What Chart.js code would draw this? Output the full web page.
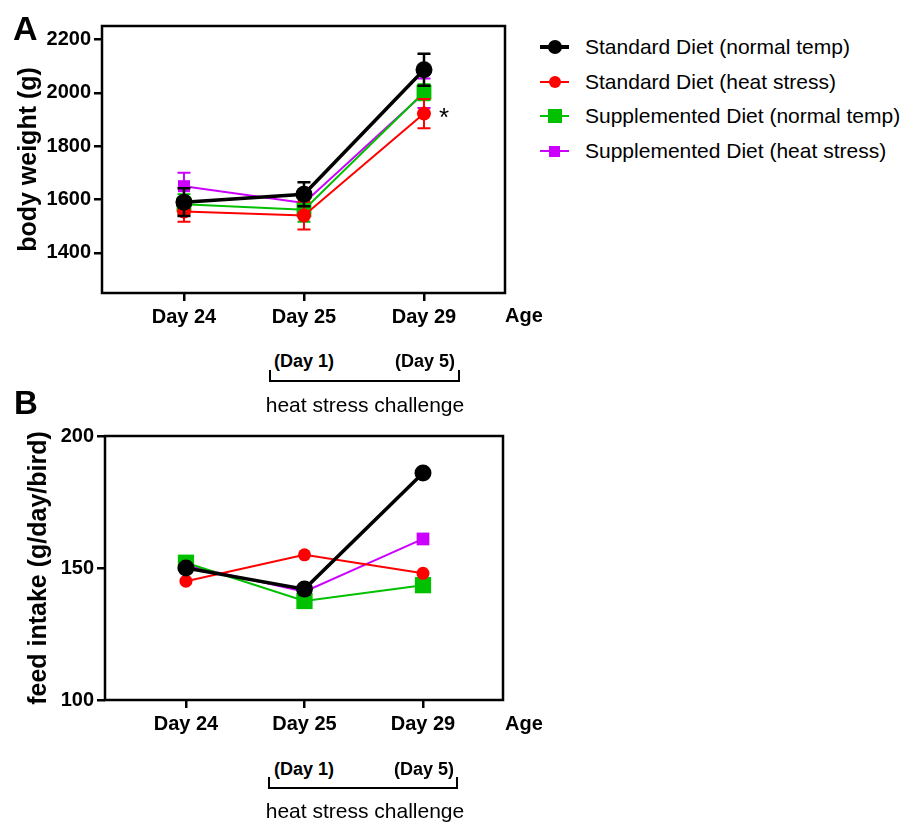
<!DOCTYPE html>
<html>
<head>
<meta charset="utf-8">
<title>Body weight and feed intake</title>
<script src="https://cdn.jsdelivr.net/npm/chart.js@4.4.1/dist/chart.umd.min.js"></script>
<style>
  html, body { margin: 0; padding: 0; background: #fff; }
  body {
    width: 909px; height: 823px; position: relative; overflow: hidden;
    font-family: "Liberation Sans", Arial, sans-serif; color: #000;
  }
  canvas { position: absolute; left: 0; }
  #chartA { top: 0; }
  #chartB { top: 400px; }
  .txt { position: absolute; line-height: 1; white-space: nowrap; }
  .panel { font-size: 34px; font-weight: bold; }
  .age { font-size: 20px; font-weight: bold; }
  .sub { font-size: 18px; font-weight: bold; transform: translateX(-50%); }
  .challenge { font-size: 21px; transform: translateX(-50%); }
  .bracket { position: absolute; border: 2px solid #000; border-top: none; box-sizing: border-box; }
  #legend { position: absolute; left: 540px; top: 0; }
  .row { position: absolute; left: 0; height: 30px; width: 369px; }
  .row .seg { position: absolute; left: 0; width: 29px; }
  .row .mk { position: absolute; }
  .row .lbl { position: absolute; left: 45px; top: 0; line-height: 30px; font-size: 21px; white-space: nowrap; }
</style>
</head>
<body>
<canvas id="chartA" width="520" height="340"></canvas>
<canvas id="chartB" width="520" height="345"></canvas>

<div class="txt panel" style="left:13px; top:11px;">A</div>
<div class="txt panel" style="left:14px; top:386px; font-size:33px;">B</div>

<div class="txt age" style="left:505px; top:305px;">Age</div>
<div class="txt age" style="left:505px; top:713px;">Age</div>

<div class="txt sub" style="left:304px; top:352px;">(Day 1)</div>
<div class="txt sub" style="left:425px; top:352px;">(Day 5)</div>
<div class="bracket" style="left:269px; top:370px; width:191px; height:12px;"></div>
<div class="txt challenge" style="left:365px; top:394px;">heat stress challenge</div>

<div class="txt sub" style="left:304px; top:760px;">(Day 1)</div>
<div class="txt sub" style="left:424px; top:760px;">(Day 5)</div>
<div class="bracket" style="left:268px; top:777px; width:190px; height:12px;"></div>
<div class="txt challenge" style="left:365px; top:800px;">heat stress challenge</div>

<div id="legend"></div>

<script>
  /* ---------- Data ---------- */
  const days = ['Day 24', 'Day 25', 'Day 29'];
  const dayPos = [0, 1, 2];

  const seriesNames = [
    'Standard Diet (normal temp)',
    'Standard Diet (heat stress)',
    'Supplemented Diet (normal temp)',
    'Supplemented Diet (heat stress)',
  ];
  const seriesColors = ['#000000', '#ff0000', '#00c000', '#cc00ff'];
  const seriesShapes = ['circle', 'circle', 'rect', 'rect'];

  // A: body weight (g), mean and error
  const weightStdNormal = [1590, 1620, 2086];
  const weightStdHeat = [1555, 1540, 1922];
  const weightSupNormal = [1582, 1562, 2002];
  const weightSupHeat = [1650, 1587, 1998];
  const weightStdNormalErr = [52, 45, 60];
  const weightStdHeatErr = [38, 52, 55];
  const weightSupNormalErr = [38, 45, 30];
  const weightSupHeatErr = [50, 40, 55];
  const weightTicks = [1400, 1600, 1800, 2000, 2200];

  // B: feed intake (g/day/bird)
  const feedStdNormal = [150, 142, 186];
  const feedStdHeat = [145, 155, 148];
  const feedSupNormal = [152, 137.5, 143.5];
  const feedSupHeat = [151, 141, 161];
  const feedTicks = [100, 150, 200];

  /* ---------- Plugins ---------- */
  const frameBox = {
    id: 'frameBox',
    afterDraw(chart) {
      const { ctx, chartArea: a } = chart;
      ctx.save();
      ctx.strokeStyle = '#000';
      ctx.lineWidth = 2.5;
      ctx.strokeRect(a.left, a.top, a.right - a.left, a.bottom - a.top);
      ctx.restore();
    },
  };

  const errorBars = {
    id: 'errorBars',
    beforeDatasetDraw(chart, args) {
      const ds = chart.data.datasets[args.index];
      if (!ds.errors) return;
      const { ctx, scales: { x, y } } = chart;
      ctx.save();
      ctx.strokeStyle = ds.borderColor;
      ctx.lineWidth = ds.index === 0 ? 2.5 : 2;
      ds.data.forEach((p, i) => {
        const px = x.getPixelForValue(p.x);
        const top = y.getPixelForValue(p.y + ds.errors[i]);
        const bot = y.getPixelForValue(p.y - ds.errors[i]);
        ctx.beginPath();
        ctx.moveTo(px, top); ctx.lineTo(px, bot);
        ctx.moveTo(px - 6.5, top); ctx.lineTo(px + 6.5, top);
        ctx.moveTo(px - 6.5, bot); ctx.lineTo(px + 6.5, bot);
        ctx.stroke();
      });
      ctx.restore();
    },
  };

  const starMark = {
    id: 'starMark',
    afterDatasetsDraw(chart, args, opts) {
      if (!opts || opts.dataset == null) return;
      const { ctx, scales: { x, y } } = chart;
      const p = chart.data.datasets[opts.dataset].data[opts.index];
      ctx.save();
      ctx.fillStyle = '#000';
      ctx.font = '26px "Liberation Sans", Arial, sans-serif';
      ctx.textAlign = 'center';
      ctx.textBaseline = 'middle';
      ctx.fillText('*', x.getPixelForValue(p.x) + 20, y.getPixelForValue(p.y) + 5);
      ctx.restore();
    },
  };

  /* ---------- Helpers ---------- */
  const toPoints = (vals) => vals.map((v, i) => ({ x: dayPos[i], y: v }));

  function makeDatasets(valueSets, errorSets, sizes) {
    return valueSets.map((vals, k) => ({
      label: seriesNames[k],
      index: k,
      data: toPoints(vals),
      errors: errorSets ? errorSets[k] : null,
      borderColor: seriesColors[k],
      backgroundColor: seriesColors[k],
      borderWidth: k === 0 ? 3.5 : 2,
      pointStyle: seriesShapes[k],
      pointRadius: sizes[k],
      pointBorderWidth: 0,
      tension: 0,
    }));
  }

  function makeChart(el, opts) {
    return new Chart(el, {
      type: 'line',
      data: { datasets: opts.datasets },
      plugins: [errorBars, frameBox, starMark],
      options: {
        responsive: false,
        animation: false,
        devicePixelRatio: 1,
        layout: { padding: { top: opts.top, right: opts.right, left: 0, bottom: 0 } },
        plugins: {
          legend: { display: false },
          tooltip: { enabled: false },
          starMark: opts.star || {},
        },
        scales: {
          x: {
            type: 'linear',
            min: -0.683,
            max: 2.675,
            afterBuildTicks: (s) => { s.ticks = dayPos.map((v) => ({ value: v })); },
            afterFit: (s) => { s.height = opts.xHeight; },
            border: { display: false },
            grid: { drawOnChartArea: false, drawTicks: true, tickLength: 8, color: '#000', lineWidth: 2.5 },
            ticks: {
              callback: (v) => days[v],
              color: '#000',
              padding: 4,
              maxRotation: 0,
              font: { family: '"Liberation Sans", Arial, sans-serif', size: 20, weight: 'bold' },
            },
          },
          y: {
            type: 'linear',
            min: opts.yMin,
            max: opts.yMax,
            afterBuildTicks: (s) => { s.ticks = opts.yTicks.map((v) => ({ value: v })); },
            afterFit: (s) => { s.width = opts.yWidth; },
            border: { display: false },
            grid: { drawOnChartArea: false, drawTicks: true, tickLength: 8, color: '#000', lineWidth: 2.5 },
            ticks: {
              callback: (v) => String(v),
              color: '#000',
              padding: 3,
              font: { family: '"Liberation Sans", Arial, sans-serif', size: 20, weight: 'bold' },
            },
            title: {
              display: true,
              text: opts.yTitle,
              color: '#000',
              padding: { top: opts.titlePad, bottom: 0 },
              font: { family: '"Liberation Sans", Arial, sans-serif', size: 25, weight: 'bold', lineHeight: 1 },
            },
          },
        },
      },
    });
  }

  /* ---------- Panel A: body weight ---------- */
  makeChart(document.getElementById('chartA'), {
    datasets: makeDatasets(
      [weightStdNormal, weightStdHeat, weightSupNormal, weightSupHeat],
      [weightStdNormalErr, weightStdHeatErr, weightSupNormalErr, weightSupHeatErr],
      [8.5, 7, 10.5, 8.5]
    ),
    yMin: 1250, yMax: 2250, yTicks: weightTicks,
    yTitle: 'body weight (g)',
    top: 26, right: 15, yWidth: 102, xHeight: 47, titlePad: 17,
    star: { dataset: 1, index: 2 },
  });

  /* ---------- Panel B: feed intake ---------- */
  makeChart(document.getElementById('chartB'), {
    datasets: makeDatasets(
      [feedStdNormal, feedStdHeat, feedSupNormal, feedSupHeat],
      null,
      [8.5, 6.5, 11.5, 9]
    ),
    yMin: 100, yMax: 200, yTicks: feedTicks,
    yTitle: 'feed intake (g/day/bird)',
    top: 36, right: 17, yWidth: 105, xHeight: 45, titlePad: 27,
  });

  /* ---------- Legend ---------- */
  const legend = document.getElementById('legend');
  const rowCenters = [47, 81.5, 116, 151];
  const legendMarkers = [
    { size: 14, line: 3.5 },
    { size: 12, line: 2 },
    { size: 14, line: 2 },
    { size: 11, line: 2 },
  ];
  seriesNames.forEach((name, k) => {
    const m = legendMarkers[k];
    const row = document.createElement('div');
    row.className = 'row';
    row.style.top = (rowCenters[k] - 15) + 'px';
    row.innerHTML =
      `<div class="seg" style="top:${15 - m.line / 2}px;height:${m.line}px;background:${seriesColors[k]}"></div>` +
      `<div class="mk" style="left:${14.5 - m.size / 2}px;top:${15 - m.size / 2}px;width:${m.size}px;height:${m.size}px;` +
      `background:${seriesColors[k]};border-radius:${seriesShapes[k] === 'circle' ? '50%' : '0'}"></div>` +
      `<div class="lbl">${name}</div>`;
    legend.appendChild(row);
  });
</script>
</body>
</html>
